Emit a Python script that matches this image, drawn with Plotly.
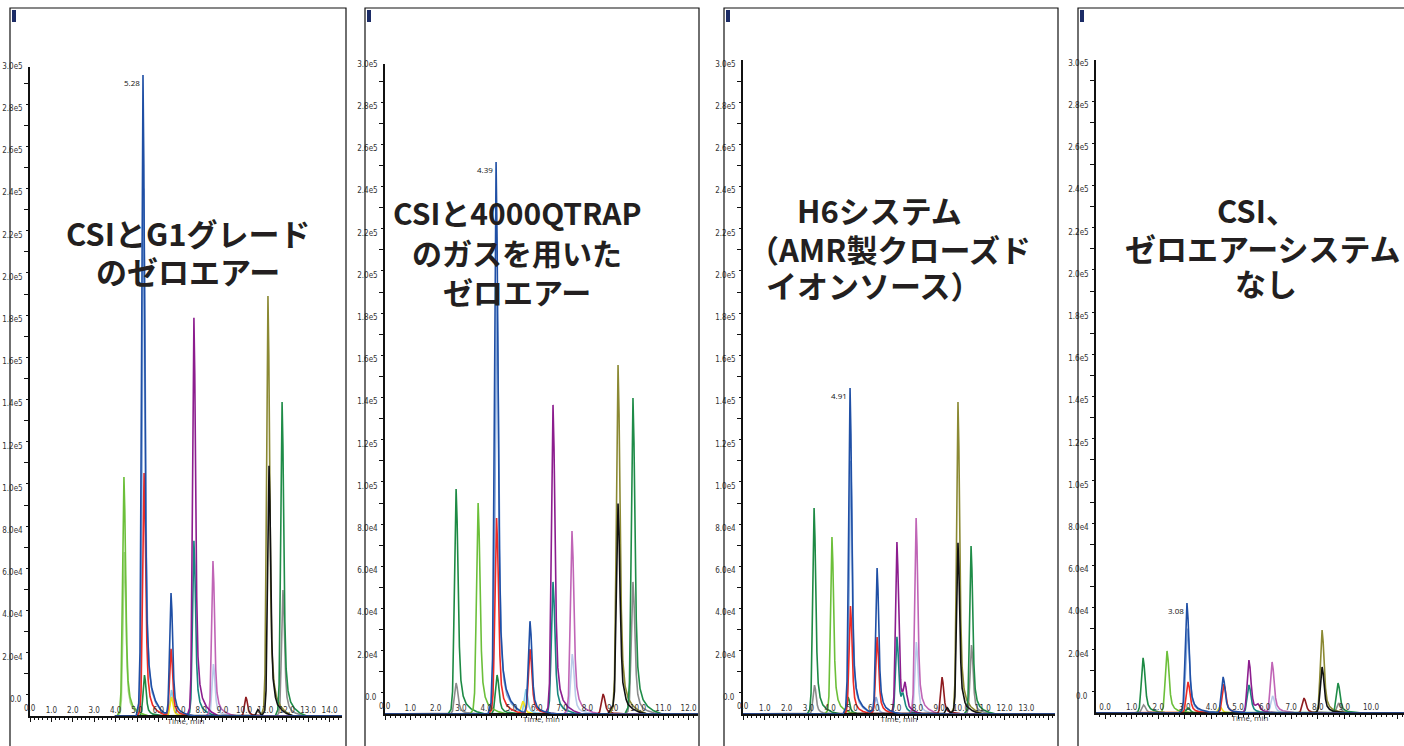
import numpy as np
import plotly.graph_objects as go

W, H = 1404, 746

# ---------------- data ----------------
COLORS = {
    "gray": "#8c8c8c", "pale_green": "#a9d98c", "lavender": "#b9cbe9",
    "light_blue": "#86a9dc", "cyan": "#84c9e6", "yellow": "#f2e21d",
    "teal": "#17877f", "dark_green": "#1d8a44", "light_green": "#6cbf3a",
    "magenta": "#c065b6", "purple": "#8c1d8e", "dark_red": "#8e1b1f",
    "olive": "#8b8933", "green": "#1f8c48", "red": "#ee2b25",
    "black": "#111111", "blue": "#1f4fa5",
}
DRAW_ORDER = ["gray", "pale_green", "lavender", "light_blue", "cyan", "yellow",
              "teal", "dark_green", "light_green", "magenta", "purple",
              "dark_red", "olive", "green", "red", "black", "blue"]

# normalized peak profile (offset in min, relative level)
PEAK_OFFSETS = [-0.32, -0.2, -0.14, -0.09, -0.045, 0.0, 0.04, 0.085, 0.13,
                0.19, 0.28, 0.4, 0.58, 0.82, 1.15]
PEAK_LEVELS = [0.0, 0.02, 0.1, 0.4, 0.82, 1.0, 0.86, 0.55, 0.3, 0.15, 0.08,
               0.045, 0.024, 0.01, 0.0]

# Panel 1: CSI + G1 grade zero air
P1_SERIES = ["light_green", "pale_green", "blue", "light_blue", "red", "dark_green",
             "blue", "red", "cyan", "yellow", "purple", "teal", "magenta",
             "lavender", "dark_red", "black", "olive", "black", "green", "gray"]
P1_TIMES = [4.39, 4.41, 5.28, 5.31, 5.33, 5.35, 6.59, 6.59, 6.61, 6.61, 7.66,
            7.66, 8.55, 8.57, 10.09, 10.65, 11.12, 11.17, 11.78, 11.82]
P1_HEIGHTS = [113300, 77700, 303800, 250000, 115200, 19400, 58300, 31800,
              12300, 9000, 188700, 83000, 73500, 24600, 9000, 3000, 199000,
              118500, 148800, 59700]

# Panel 2: CSI + 4000QTRAP gas zero air
P2_SERIES = ["dark_green", "gray", "light_green", "blue", "light_blue", "red",
             "dark_green", "blue", "red", "cyan", "yellow", "purple", "teal",
             "magenta", "lavender", "dark_red", "black", "olive", "black",
             "green", "gray"]
P2_TIMES = [2.81, 2.81, 3.68, 4.39, 4.42, 4.41, 4.43, 5.73, 5.73, 5.57, 5.45,
            6.64, 6.64, 7.39, 7.40, 8.62, 8.95, 9.21, 9.21, 9.80, 9.80]
P2_HEIGHTS = [106600, 14700, 100000, 261600, 200000, 92900, 18500, 44000,
              30800, 11800, 6000, 146500, 62600, 86700, 28400, 9500, 2500,
              165400, 99500, 149800, 62600]

# Panel 3: H6 system (AMR closed ion source)
P3_SERIES = ["dark_green", "gray", "light_green", "blue", "light_blue", "red",
             "dark_green", "blue", "red", "light_blue", "purple", "teal",
             "purple", "teal", "magenta", "lavender", "dark_red", "black",
             "olive", "black", "green", "gray"]
P3_TIMES = [3.26, 3.28, 4.08, 4.91, 4.94, 4.93, 4.82, 6.15, 6.15, 6.10, 7.06,
            7.06, 7.43, 7.34, 7.94, 7.95, 9.13, 9.36, 9.86, 9.86, 10.46, 10.48]
P3_HEIGHTS = [97600, 13700, 83900, 154500, 120000, 51200, 8000, 69200, 36500,
              8000, 81500, 36500, 10900, 7000, 92900, 34100, 17500, 3000,
              147900, 81000, 79600, 32700]

# Panel 4: CSI, no zero-air system
P4_SERIES = ["dark_green", "gray", "light_green", "blue", "light_blue", "red",
             "dark_green", "blue", "red", "yellow", "purple", "teal", "purple",
             "magenta", "lavender", "dark_red", "olive", "black", "green", "gray"]
P4_TIMES = [1.43, 1.45, 2.33, 3.08, 3.10, 3.12, 3.12, 4.44, 4.47, 4.32, 5.41,
            5.41, 5.75, 6.28, 6.30, 7.48, 8.16, 8.16, 8.76, 8.78]
P4_HEIGHTS = [26100, 3800, 29400, 52100, 40000, 14700, 2400, 17100, 13700,
              3000, 25100, 13300, 2800, 24200, 8100, 7100, 39300, 21800,
              14200, 4700]

APEX_LABELS = ["5.28", "4.39", "4.91", "3.08"]
APEX_TIMES = [5.28, 4.39, 4.91, 3.08]
APEX_HEIGHTS = [303800, 261600, 154500, 52100]

TITLE_LINES = [
    ["CSIとG1グレード", "のゼロエアー"],
    ["CSIと4000QTRAP", "のガスを用いた", "ゼロエアー"],
    ["H6システム", "（AMR製クローズド", "イオンソース）"],
    ["CSI、", "ゼロエアーシステム", "なし"],
]

Y_TICK_VALUES = [i * 20000 for i in range(16)]
Y_TICK_TEXT = ["0.0"] + ["%.1fe%d" % ((v / 10 ** int(np.floor(np.log10(v)))),
                                     int(np.floor(np.log10(v)))) for v in Y_TICK_VALUES[1:]]

# ---------------- layout geometry (pixels) ----------------
PANELS = [
    dict(x0=30, x1=342, yb=716, yt=67, xr=(0, 14.58), ds=3.97, ticks=15,
         box=(10, 346), series=P1_SERIES, times=P1_TIMES, heights=P1_HEIGHTS,
         tx=[188, 188], ty=[232, 270], fs=31),
    dict(x0=385, x1=698, yb=714, yt=64, xr=(0, 12.37), ds=0.0, ticks=13,
         box=(365, 699), series=P2_SERIES, times=P2_TIMES, heights=P2_HEIGHTS,
         tx=[517, 517, 517], ty=[212, 252, 291], fs=30),
    dict(x0=743, x1=1055, yb=714, yt=60, xr=(0, 14.31), ds=0.0, ticks=15,
         box=(724, 1058), series=P3_SERIES, times=P3_TIMES, heights=P3_HEIGHTS,
         tx=[880, 889, 873], ty=[210, 248, 285], fs=31),
    dict(x0=1096, x1=1404, yb=713, yt=60, xr=(-0.34, 11.24), ds=-0.34, ticks=12,
         box=(1078, 1420), series=P4_SERIES, times=P4_TIMES, heights=P4_HEIGHTS,
         tx=[1257, 1263, 1266], ty=[210, 247, 283], fs=31),
]
PX_PER_UNIT_Y = 633 / 300000.0


def px(x):
    return x / W


def py(y):
    return 1 - y / H


fig = go.Figure()
shapes = []
annotations = []
TICK_FONT = dict(size=8, color="#333",
                 family="Liberation Sans Narrow, DejaVu Sans Condensed, sans-serif")

for i, p in enumerate(PANELS):
    n = i + 1
    xa = "x" if n == 1 else "x%d" % n
    ya = "y" if n == 1 else "y%d" % n
    ytop = (p["yb"] - p["yt"]) / PX_PER_UNIT_Y
    for s in DRAW_ORDER:
        idx = [k for k, name in enumerate(p["series"]) if name == s]
        if not idx:
            continue
        pts = {p["ds"], p["xr"][1]}
        for k in idx:
            for o in PEAK_OFFSETS:
                t = p["times"][k] + o
                if p["ds"] <= t <= p["xr"][1]:
                    pts.add(round(t, 4))
        xs = np.array(sorted(pts))
        ys = np.zeros_like(xs)
        for k in idx:
            ys += p["heights"][k] * np.interp(
                xs - p["times"][k], PEAK_OFFSETS, PEAK_LEVELS, left=0, right=0)
        fig.add_trace(go.Scatter(
            x=xs, y=ys, mode="lines", xaxis=xa, yaxis=ya, showlegend=False,
            line=dict(color=COLORS[s], width=1.6), hoverinfo="skip"))

    dom_x = [px(p["x0"]), min(px(p["x1"]), 1.0)]
    dom_y = [py(p["yb"]), py(p["yt"])]
    xkey = "xaxis" if n == 1 else "xaxis%d" % n
    ykey = "yaxis" if n == 1 else "yaxis%d" % n
    x_ticks = list(range(p["ticks"]))
    fig.update_layout({
        xkey: dict(domain=dom_x, range=list(p["xr"]), anchor=ya,
                   showline=True, linecolor="#111", linewidth=1.5,
                   showgrid=False, zeroline=False, automargin=False,
                   tickvals=x_ticks, ticktext=["%.1f" % v for v in x_ticks],
                   ticks="outside", ticklen=4, tickcolor="#111",
                   ticklabelposition="inside", tickfont=TICK_FONT,
                   minor=dict(dtick=0.2, ticks="outside", ticklen=2,
                              tickcolor="#111", showgrid=False),
                   title=dict(text="Time, min", standoff=4,
                              font=dict(size=8, color="#333")),
                   fixedrange=True),
        ykey: dict(domain=dom_y, range=[0, ytop], anchor=xa,
                   showline=True, linecolor="#111", linewidth=1.5,
                   showgrid=False, zeroline=False, automargin=False,
                   tickvals=Y_TICK_VALUES, ticktext=Y_TICK_TEXT,
                   ticks="outside", ticklen=4, tickcolor="#111",
                   ticklabelshift=-17, tickfont=TICK_FONT,
                   minor=dict(dtick=10000, ticks="outside", ticklen=2,
                              tickcolor="#111", showgrid=False),
                   fixedrange=True),
    })
    # origin labels that plotly drops at the axis corner
    annotations.append(dict(x=p["xr"][0], y=0, xref=xa, yref=ya, text="0.0",
                            showarrow=False, xanchor="right", yanchor="middle",
                            xshift=-6, yshift=17, font=TICK_FONT))
    if p["xr"][0] == 0:
        annotations.append(dict(x=0, y=0, xref=xa, yref=ya, text="0.0",
                                showarrow=False, xanchor="center",
                                yanchor="bottom", yshift=1, font=TICK_FONT))
    shapes.append(dict(type="rect", xref="paper", yref="paper",
                       x0=px(p["box"][0]), x1=px(p["box"][1]),
                       y0=-0.05, y1=py(8), line=dict(color="#111", width=1.2)))
    shapes.append(dict(type="rect", xref="paper", yref="paper",
                       x0=px(p["box"][0] + 2), x1=px(p["box"][0] + 6),
                       y0=py(22), y1=py(10), fillcolor="#1c2c66",
                       line=dict(width=0)))
    annotations.append(dict(x=APEX_TIMES[i], y=APEX_HEIGHTS[i], xref=xa, yref=ya,
                            text=APEX_LABELS[i], showarrow=False,
                            xanchor="right", yanchor="top", xshift=-1,
                            font=dict(size=8, color="#111")))
    for line, tx, ty in zip(TITLE_LINES[i], p["tx"], p["ty"]):
        annotations.append(dict(x=px(tx), y=py(ty), xref="paper", yref="paper",
                                text=line, showarrow=False,
                                xanchor="center", yanchor="middle",
                                font=dict(size=p["fs"], color="#231f20",
                                          family="Noto Sans CJK JP, sans-serif",
                                          weight="bold")))

fig.update_layout(width=W, height=H, margin=dict(l=0, r=0, t=0, b=0),
                  paper_bgcolor="white", plot_bgcolor="white",
                  shapes=shapes, annotations=annotations, showlegend=False)

fig.write_html("out.html", config={"displayModeBar": False},
               post_script="document.body.style.margin='0';"
                           "document.body.style.overflow='hidden';")
